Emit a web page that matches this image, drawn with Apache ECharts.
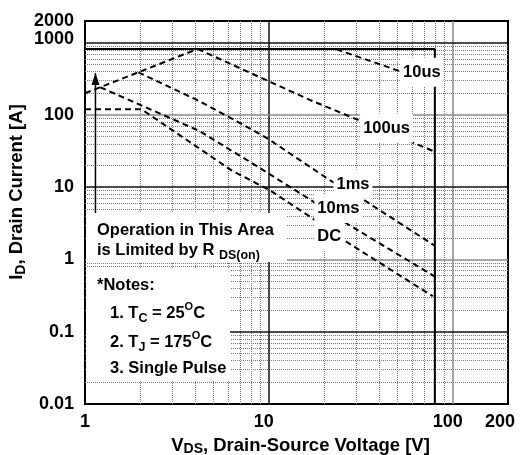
<!DOCTYPE html>
<html>
<head>
<meta charset="utf-8">
<script src="https://cdn.jsdelivr.net/npm/echarts@6/dist/echarts.min.js"></script>
<style>
  html, body { margin: 0; padding: 0; background: #fff; }
  #chart { width: 526px; height: 455px; }
</style>
</head>
<body>
<div id="chart"></div>
<script>
const FONT = '"Liberation Sans", Arial, Helvetica, sans-serif';

// Safe operating area, points are [V_DS in V, I_D in A]
const limitLine  = [[1, 820], [80, 820], [80, 0.01]];
const curve10us  = [[1, 200], [4.1, 820], [23, 820], [80, 275]];
const curve100us = [[4.1, 820], [16.7, 162], [80, 31]];
const curve1ms   = [[1.95, 390], [4.2, 155], [7.9, 65], [10, 46], [21.5, 12.5], [33.4, 6.5], [80, 1.55]];
const curve10ms  = [[1.21, 242], [4.2, 60], [6.15, 33], [8, 22], [17, 6.6], [26.5, 3.15], [80, 0.58]];
const curveDC    = [[1, 120], [2.03, 120], [6.3, 17], [10.2, 9], [16.8, 3.9], [26.5, 1.75], [78, 0.31]];
const rdsArrow   = [[1.14, 4.4], [1.14, 382]];

// Curve tags and where they sit
const curveNames     = ['10us', '100us', '1ms', '10ms', 'DC'];
const labelPositions = [[68, 390], [43.7, 65.6], [28.7, 11], [23.9, 5.1], [21.3, 2.06]];

// Top end of the current axis, labelled separately from the decade ticks
const yAxisTop = [1, 2000];

// Solid decade grid lines (alternating dark / grey as printed)
const xMajorGrid = [10, 100];
const xMajorDark = [true, false];
const yMajorGrid = [0.1, 1, 10, 100, 1000];
const yMajorDark = [true, false, true, false, true];

// Dotted minor grid
const xMinorGrid = [2, 3, 4, 5, 6, 7, 8, 9, 20, 30, 40, 50, 60, 70, 80, 90];
const yMinorGrid = [0.02, 0.03, 0.04, 0.05, 0.06, 0.07, 0.08, 0.09,
                    0.2, 0.3, 0.4, 0.5, 0.6, 0.7, 0.8, 0.9,
                    2, 3, 4, 5, 6, 7, 8, 9,
                    20, 30, 40, 50, 60, 70, 80, 90,
                    200, 300, 400, 500, 600, 700, 800, 900];

function tickText(v) { return String(Number(Number(v).toPrecision(6))); }

const boldText = { fontFamily: FONT, fontWeight: 'bold', color: '#000' };
const majorStyle = dark => ({ type: 'solid', color: dark ? '#111' : '#8a8a8a', width: 1.5 });

const chart = echarts.init(document.getElementById('chart'), null, { renderer: 'canvas' });

const dashed = { color: '#000', width: 2, type: [6, 4] };

function curveSeries(name, data) {
  return {
    name: name, type: 'line', data: data, symbol: 'none', silent: true, z: 6,
    lineStyle: dashed, animation: false
  };
}

chart.setOption({
  animation: false,
  backgroundColor: '#fff',
  grid: {
    left: 85, right: 18, top: 21, bottom: 51,
    show: true, borderColor: '#000', borderWidth: 2,
    containLabel: false, outerBoundsMode: 'none'
  },
  xAxis: {
    type: 'log', logBase: 10, min: 1, max: 200,
    axisLine: { show: false }, axisTick: { show: false },
    splitLine: { show: false },
    axisLabel: {
      show: true, interval: 0, margin: 9, showMinLabel: true, showMaxLabel: true,
      fontSize: 18, ...boldText,
      formatter: function (v) {
        const t = tickText(v);
        if (t === '1') return t;
        if (t === '200') return '{r8|' + t + '}';
        return '{r5|' + t + '}';
      },
      rich: {
        r5: { fontSize: 18, ...boldText, padding: [0, 10, 0, 0] },
        r8: { fontSize: 18, ...boldText, padding: [0, 16, 0, 0] }
      }
    }
  },
  yAxis: {
    type: 'log', logBase: 10, min: 0.01, max: 2000,
    axisLine: { show: false }, axisTick: { show: false },
    splitLine: { show: false },
    axisLabel: {
      show: true, interval: 0, margin: 11, showMinLabel: true, showMaxLabel: false,
      fontSize: 18, lineHeight: 12, ...boldText,
      formatter: function (v) {
        const t = tickText(v);
        return t === '1000' ? '{up|' + t + '}' : t;
      },
      rich: {
        up: { fontSize: 18, lineHeight: 12, ...boldText, padding: [0, 0, 8, 0] }
      }
    }
  },
  series: [
    {
      name: 'minor-grid', type: 'line', data: [[1, 0.01]], symbol: 'none', silent: true, z: 1,
      lineStyle: { opacity: 0 },
      markLine: {
        silent: true, symbol: 'none', animation: false,
        label: { show: false },
        lineStyle: { type: 'dotted', color: '#777', width: 1 },
        emphasis: { disabled: true },
        data: xMinorGrid.map(v => ({ xAxis: v })).concat(yMinorGrid.map(v => ({ yAxis: v })))
      }
    },
    {
      name: 'major-grid', type: 'line', data: [[1, 0.01]], symbol: 'none', silent: true, z: 2,
      lineStyle: { opacity: 0 },
      markLine: {
        silent: true, symbol: 'none', animation: false,
        label: { show: false },
        emphasis: { disabled: true },
        data: xMajorGrid.map((v, i) => ({ xAxis: v, lineStyle: majorStyle(xMajorDark[i]) }))
          .concat(yMajorGrid.map((v, i) => ({ yAxis: v, lineStyle: majorStyle(yMajorDark[i]) })))
      }
    },
    {
      name: 'limit', type: 'line', data: limitLine, symbol: 'none', silent: true, z: 5,
      lineStyle: { color: '#000', width: 2 }
    },
    curveSeries('10us', curve10us),
    curveSeries('100us', curve100us),
    curveSeries('1ms', curve1ms),
    curveSeries('10ms', curve10ms),
    curveSeries('DC', curveDC),
    {
      name: 'rds-arrow', type: 'line', silent: true, z: 6, showSymbol: true,
      lineStyle: { color: '#000', width: 1.5 },
      data: [
        { value: rdsArrow[0], symbol: 'none' },
        { value: rdsArrow[1], symbol: 'triangle', symbolSize: [8, 12], symbolOffset: [0, 6],
          itemStyle: { color: '#000' } }
      ]
    },
    {
      name: 'curve-tags', type: 'scatter', silent: true, z: 20, symbolSize: 0,
      itemStyle: { opacity: 1 },
      data: curveNames.map((n, i) => ({ name: n, value: labelPositions[i] })),
      label: {
        show: true, position: 'inside', formatter: '{b}', opacity: 1,
        fontSize: 16.5, ...boldText,
        backgroundColor: '#fff', padding: [6, 3]
      }
    },
    {
      name: 'y-top-label', type: 'scatter', silent: true, z: 20, symbolSize: 0,
      itemStyle: { opacity: 1 },
      data: [{ value: yAxisTop }],
      label: {
        show: true, position: 'left', distance: 11, opacity: 1,
        formatter: p => tickText(p.value[1]),
        fontSize: 18, ...boldText
      }
    }
  ],
  graphic: [
    { type: 'rect', z: 10, silent: true, shape: { x: 86, y: 213, width: 201, height: 49 }, style: { fill: '#fff' } },
    { type: 'rect', z: 10, silent: true, shape: { x: 86, y: 268, width: 144, height: 113 }, style: { fill: '#fff' } },
    {
      type: 'text', z: 11, silent: true, x: 97, y: 230,
      style: { text: 'Operation in This Area', fontSize: 16.5, fontWeight: 'bold', fontFamily: FONT,
               fill: '#000', verticalAlign: 'middle', align: 'left' }
    },
    {
      type: 'text', z: 11, silent: true, x: 97, y: 250,
      style: {
        text: '{m|is Limited by R }{s|DS(on)}', verticalAlign: 'middle', align: 'left',
        rich: {
          m: { fontSize: 16.5, fontWeight: 'bold', fontFamily: FONT, fill: '#000', lineHeight: 24, verticalAlign: 'middle' },
          s: { fontSize: 12.5, fontWeight: 'bold', fontFamily: FONT, fill: '#000', lineHeight: 13, verticalAlign: 'bottom' }
        }
      }
    },
    {
      type: 'text', z: 11, silent: true, x: 97, y: 285,
      style: { text: '*Notes:', fontSize: 16.5, fontWeight: 'bold', fontFamily: FONT,
               fill: '#000', verticalAlign: 'middle', align: 'left' }
    },
    {
      type: 'text', z: 11, silent: true, x: 110, y: 313,
      style: {
        text: '{m|1. T}{s|C}{m| = 25}{p|O}{m|C}', verticalAlign: 'middle', align: 'left',
        rich: {
          m: { fontSize: 16.5, fontWeight: 'bold', fontFamily: FONT, fill: '#000', lineHeight: 24, verticalAlign: 'middle' },
          s: { fontSize: 12.5, fontWeight: 'bold', fontFamily: FONT, fill: '#000', lineHeight: 13, verticalAlign: 'bottom' },
          p: { fontSize: 11, fontWeight: 'bold', fontFamily: FONT, fill: '#000', lineHeight: 12, verticalAlign: 'top' }
        }
      }
    },
    {
      type: 'text', z: 11, silent: true, x: 110, y: 342,
      style: {
        text: '{m|2. T}{s|J}{m| = 175}{p|O}{m|C}', verticalAlign: 'middle', align: 'left',
        rich: {
          m: { fontSize: 16.5, fontWeight: 'bold', fontFamily: FONT, fill: '#000', lineHeight: 24, verticalAlign: 'middle' },
          s: { fontSize: 12.5, fontWeight: 'bold', fontFamily: FONT, fill: '#000', lineHeight: 13, verticalAlign: 'bottom' },
          p: { fontSize: 11, fontWeight: 'bold', fontFamily: FONT, fill: '#000', lineHeight: 12, verticalAlign: 'top' }
        }
      }
    },
    {
      type: 'text', z: 11, silent: true, x: 110, y: 368,
      style: { text: '3. Single Pulse', fontSize: 16.5, fontWeight: 'bold', fontFamily: FONT,
               fill: '#000', verticalAlign: 'middle', align: 'left' }
    },
    {
      type: 'text', z: 11, silent: true, x: 300.5, y: 445.5,
      style: {
        text: '{m|V}{s|DS}{m|, Drain-Source Voltage [V]}', align: 'center', verticalAlign: 'middle',
        rich: {
          m: { fontSize: 18.5, fontWeight: 'bold', fontFamily: FONT, fill: '#000', lineHeight: 22, verticalAlign: 'middle' },
          s: { fontSize: 14, fontWeight: 'bold', fontFamily: FONT, fill: '#000', lineHeight: 15, verticalAlign: 'bottom' }
        }
      }
    },
    {
      type: 'text', z: 11, silent: true, x: 17, y: 192, rotation: Math.PI / 2,
      style: {
        text: '{m|I}{s|D}{m|, Drain Current [A]}', align: 'center', verticalAlign: 'middle',
        rich: {
          m: { fontSize: 18.5, fontWeight: 'bold', fontFamily: FONT, fill: '#000', lineHeight: 22, verticalAlign: 'middle' },
          s: { fontSize: 14, fontWeight: 'bold', fontFamily: FONT, fill: '#000', lineHeight: 15, verticalAlign: 'bottom' }
        }
      }
    }
  ]
});
</script>
</body>
</html>
